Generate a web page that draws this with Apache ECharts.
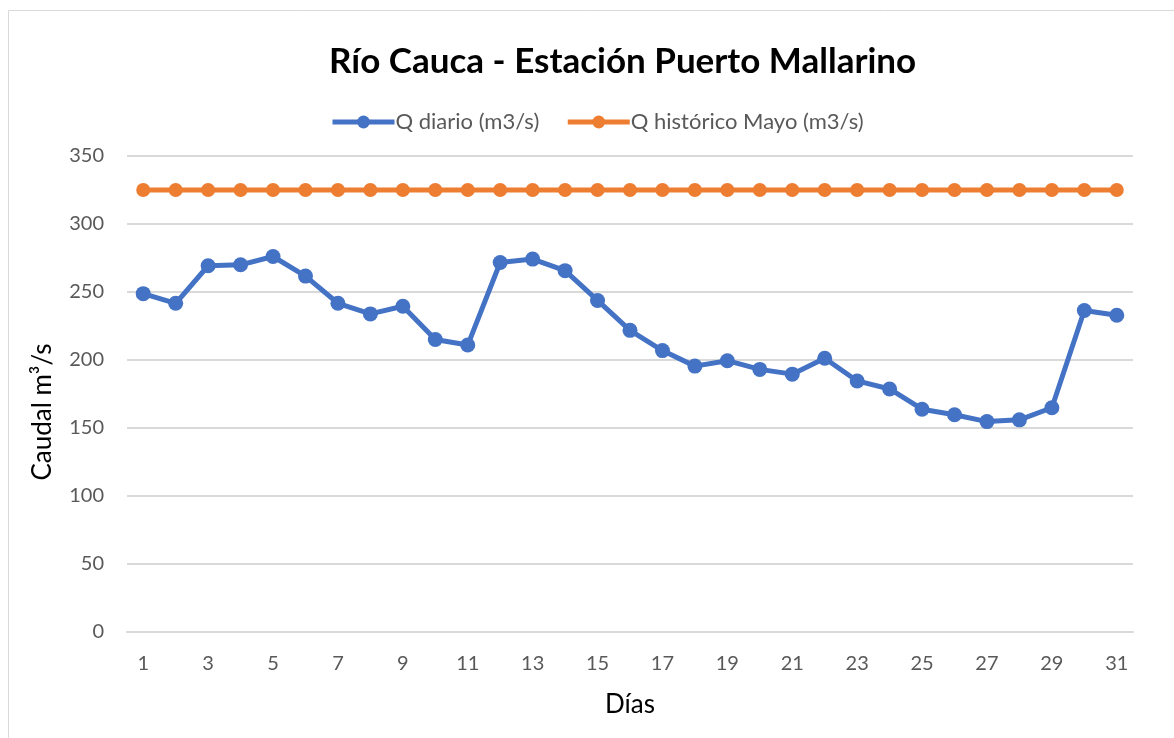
<!DOCTYPE html>
<html>
<head>
<meta charset="utf-8">
<script src="https://cdn.jsdelivr.net/npm/echarts@6/dist/echarts.min.js"></script>
<style>
  html, body { margin: 0; padding: 0; background: #fff; }
  #chart { width: 1174px; height: 738px; }
</style>
</head>
<body>
<div id="chart"></div>
<script>
const days = Array.from({ length: 31 }, (_, i) => String(i + 1))
const qDiario = [248.8, 241.7, 269.3, 270, 276.1, 261.7, 241.7, 233.9, 239.5, 215.1,
  211, 271.7, 274.2, 265.7, 243.8, 221.8, 206.9, 195.5, 199.5, 193.1,
  189.6, 201.3, 184.6, 178.7, 163.8, 159.7, 154.7, 156, 164.9, 236.4, 232.9]
const qHistorico = [325, 325, 325, 325, 325, 325, 325, 325, 325, 325,
  325, 325, 325, 325, 325, 325, 325, 325, 325, 325,
  325, 325, 325, 325, 325, 325, 325, 325, 325, 325, 325]

const font = 'Lato, "Open Sans", sans-serif'
const mychart = echarts.init(document.getElementById('chart'))
mychart.setOption({
  animation: false,
  textStyle: { fontFamily: font },
  graphic: [{
    type: 'rect',
    shape: { x: 8.5, y: 10.5, width: 1300, height: 900 },
    style: { fill: 'none', stroke: '#d9d9d9', lineWidth: 1 }
  }, {
    // y axis title, Excel places it a bit below the plot centre
    type: 'text',
    x: 43,
    y: 412,
    rotation: Math.PI / 2,
    style: {
      text: 'Caudal m³/s',
      fontFamily: font,
      fontSize: 26,
      fill: '#000',
      align: 'center',
      verticalAlign: 'middle'
    }
  }],
  title: {
    text: 'Río Cauca - Estación Puerto Mallarino',
    left: 324,
    top: 39,
    textStyle: { fontFamily: font, fontSize: 35, fontWeight: 'bold', color: '#000' }
  },
  legend: {
    top: 106,
    left: 325,
    itemWidth: 62,
    itemHeight: 16,
    itemGap: 26,
    lineStyle: { width: 5 },
    textStyle: { fontFamily: font, fontSize: 22, color: '#595959', padding: [0, 0, 0, -4] },
    data: ['Q diario (m3/s)', 'Q histórico Mayo (m3/s)']
  },
  grid: { left: 127, right: 41, top: 156, bottom: 106 },
  xAxis: {
    type: 'category',
    data: days,
    boundaryGap: true,
    name: 'Días',
    nameLocation: 'middle',
    nameGap: 60,
    nameTextStyle: { fontFamily: font, fontSize: 26, color: '#000' },
    axisLine: { lineStyle: { color: '#d9d9d9', width: 2 } },
    axisTick: { show: false },
    axisLabel: { interval: 1, fontSize: 20, color: '#595959', margin: 22, fontFamily: font }
  },
  yAxis: {
    type: 'value',
    min: 0,
    max: 350,
    interval: 50,
    axisLine: { show: false },
    axisTick: { show: false },
    axisLabel: { fontSize: 20, color: '#595959', margin: 23, fontFamily: font },
    splitLine: { lineStyle: { color: '#d9d9d9', width: 2 } }
  },
  series: [{
    name: 'Q diario (m3/s)',
    type: 'line',
    data: qDiario,
    symbol: 'circle',
    symbolSize: 15,
    itemStyle: { color: '#4472c4' },
    lineStyle: { color: '#4472c4', width: 5 }
  }, {
    name: 'Q histórico Mayo (m3/s)',
    type: 'line',
    data: qHistorico,
    symbol: 'circle',
    symbolSize: 14,
    itemStyle: { color: '#ed7d31' },
    lineStyle: { color: '#ed7d31', width: 5 }
  }]
})
</script>
</body>
</html>
